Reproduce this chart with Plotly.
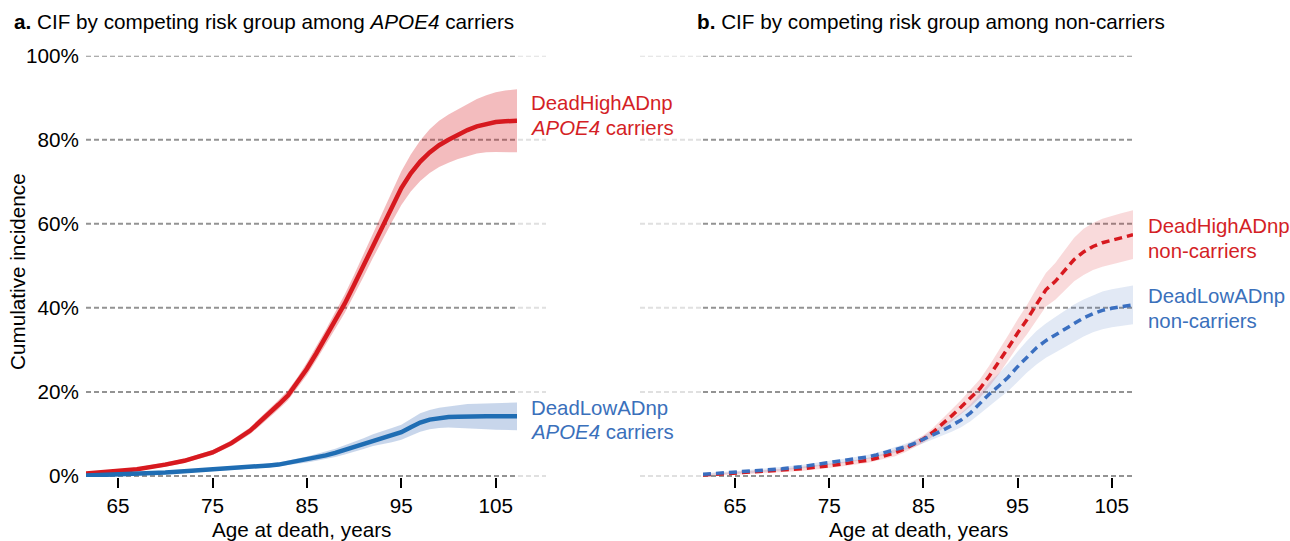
import plotly.graph_objects as go

# ---------------- data ----------------
AGES = [61.6, 63, 65, 67, 70, 72, 75, 77, 79, 80, 81, 82, 83, 84, 85, 86, 87, 88, 89, 90,
        91, 92, 93, 94, 95, 96, 97, 98, 99, 100, 101, 102, 103, 104, 105, 106, 107.25]

# Panel a: APOE4 carriers
carrier_high = [0.006, 0.008, 0.011, 0.016, 0.027, 0.036, 0.056, 0.078, 0.108, 0.128, 0.148, 0.170,
                0.192, 0.222, 0.255, 0.292, 0.330, 0.370, 0.410, 0.455, 0.500, 0.548, 0.595, 0.640,
                0.685, 0.720, 0.748, 0.770, 0.787, 0.800, 0.812, 0.823, 0.832, 0.838, 0.842, 0.844, 0.845]
carrier_high_lo = [0.003, 0.005, 0.007, 0.012, 0.022, 0.031, 0.050, 0.071, 0.100, 0.119, 0.138, 0.159,
                   0.180, 0.209, 0.240, 0.276, 0.312, 0.350, 0.388, 0.431, 0.474, 0.519, 0.563, 0.604,
                   0.645, 0.677, 0.702, 0.721, 0.735, 0.745, 0.754, 0.761, 0.767, 0.770, 0.771, 0.771, 0.770]
carrier_high_hi = [0.009, 0.011, 0.015, 0.020, 0.032, 0.041, 0.062, 0.085, 0.116, 0.137, 0.158, 0.181,
                   0.204, 0.235, 0.270, 0.308, 0.348, 0.390, 0.432, 0.479, 0.526, 0.577, 0.627, 0.676,
                   0.725, 0.765, 0.798, 0.825, 0.845, 0.860, 0.873, 0.886, 0.897, 0.906, 0.913, 0.917, 0.920]

carrier_low = [0.001, 0.002, 0.003, 0.005, 0.008, 0.011, 0.015, 0.018, 0.021, 0.023, 0.025, 0.027,
               0.031, 0.035, 0.039, 0.044, 0.049, 0.055, 0.062, 0.069, 0.077, 0.085, 0.091, 0.097,
               0.104, 0.116, 0.127, 0.134, 0.138, 0.140, 0.141, 0.142, 0.142, 0.142, 0.142, 0.142, 0.142]
carrier_low_lo = [0.000, 0.001, 0.001, 0.003, 0.005, 0.008, 0.012, 0.014, 0.017, 0.019, 0.020, 0.022,
                  0.025, 0.029, 0.032, 0.036, 0.040, 0.045, 0.051, 0.057, 0.064, 0.071, 0.076, 0.080,
                  0.086, 0.096, 0.105, 0.111, 0.114, 0.115, 0.114, 0.113, 0.112, 0.111, 0.110, 0.109, 0.109]
carrier_low_hi = [0.002, 0.003, 0.005, 0.007, 0.011, 0.014, 0.018, 0.022, 0.025, 0.027, 0.030, 0.032,
                  0.037, 0.041, 0.046, 0.052, 0.058, 0.065, 0.073, 0.081, 0.090, 0.099, 0.106, 0.114,
                  0.122, 0.136, 0.149, 0.157, 0.162, 0.165, 0.168, 0.171, 0.172, 0.173, 0.174, 0.175, 0.175]

# Panel b: non-carriers
noncarrier_high = [0.002, 0.004, 0.006, 0.009, 0.013, 0.017, 0.024, 0.030, 0.037, 0.042, 0.048, 0.055,
                   0.064, 0.075, 0.088, 0.104, 0.123, 0.143, 0.164, 0.185, 0.208, 0.238, 0.270, 0.305,
                   0.340, 0.372, 0.408, 0.443, 0.463, 0.490, 0.515, 0.533, 0.546, 0.555, 0.561, 0.567, 0.574]
noncarrier_high_lo = [0.000, 0.002, 0.003, 0.006, 0.009, 0.012, 0.019, 0.025, 0.031, 0.036, 0.041, 0.047,
                      0.056, 0.067, 0.079, 0.094, 0.111, 0.128, 0.147, 0.165, 0.186, 0.213, 0.242, 0.275,
                      0.308, 0.337, 0.370, 0.403, 0.419, 0.442, 0.463, 0.478, 0.490, 0.498, 0.503, 0.509, 0.516]
noncarrier_high_hi = [0.004, 0.006, 0.009, 0.012, 0.017, 0.022, 0.029, 0.035, 0.043, 0.048, 0.055, 0.063,
                      0.072, 0.083, 0.097, 0.114, 0.135, 0.158, 0.181, 0.205, 0.230, 0.263, 0.298, 0.335,
                      0.372, 0.407, 0.446, 0.483, 0.507, 0.538, 0.567, 0.588, 0.602, 0.612, 0.619, 0.625, 0.632]

noncarrier_low = [0.004, 0.006, 0.008, 0.011, 0.017, 0.022, 0.031, 0.037, 0.045, 0.050, 0.056, 0.062,
                  0.069, 0.077, 0.087, 0.097, 0.108, 0.120, 0.133, 0.150, 0.172, 0.195, 0.214, 0.235,
                  0.260, 0.284, 0.305, 0.322, 0.336, 0.350, 0.364, 0.376, 0.386, 0.394, 0.399, 0.403, 0.407]
noncarrier_low_lo = [0.002, 0.003, 0.005, 0.007, 0.013, 0.018, 0.026, 0.032, 0.040, 0.045, 0.050, 0.055,
                     0.062, 0.069, 0.079, 0.087, 0.096, 0.105, 0.116, 0.130, 0.148, 0.167, 0.184, 0.202,
                     0.224, 0.246, 0.265, 0.281, 0.294, 0.307, 0.320, 0.332, 0.342, 0.349, 0.354, 0.358, 0.361]
noncarrier_low_hi = [0.006, 0.009, 0.011, 0.015, 0.021, 0.026, 0.036, 0.042, 0.050, 0.055, 0.062, 0.069,
                     0.076, 0.085, 0.095, 0.107, 0.120, 0.135, 0.150, 0.170, 0.196, 0.223, 0.244, 0.268,
                     0.296, 0.322, 0.345, 0.363, 0.378, 0.393, 0.408, 0.420, 0.430, 0.439, 0.444, 0.448, 0.453]

X_TICKS = [65, 75, 85, 95, 105]
Y_TICKS = [0, 0.2, 0.4, 0.6, 0.8, 1.0]
Y_TICK_LABELS = ["0%", "20%", "40%", "60%", "80%", "100%"]

# ---------------- styling ----------------
W, H = 1290, 541
FONT = "Liberation Sans, Arial, sans-serif"
FS = 20.7
FS_LAB = 20.4
RED = "#d7191f"
BLUE_SOLID = "#1f6db3"
BLUE_DASH = "#3a6fc0"
RED_TXT = "#d41f26"
BLUE_TXT = "#3a70bb"
GRID = "#939393"
GRID_LIGHT = "#e0e0e0"


def px_x(p):
    return p / W


def px_y(p):
    return (H - p) / H


LEFT_DOM = [px_x(86), px_x(517)]
RIGHT_DOM = [px_x(703), px_x(1133)]
Y_DOM = [px_y(477), px_y(55.7)]
X_RANGE = [61.6, 107.25]
Y_RANGE = [-0.0025, 1.0]

fig = go.Figure()


def band(xa, ya, lo, hi, color):
    fig.add_trace(go.Scatter(
        x=AGES + AGES[::-1], y=hi + lo[::-1], fill="toself", fillcolor=color,
        line=dict(width=0), mode="lines", hoverinfo="skip", showlegend=False,
        xaxis=xa, yaxis=ya))


def line(xa, ya, vals, color, width, dash=None):
    fig.add_trace(go.Scatter(
        x=AGES, y=vals, mode="lines",
        line=dict(color=color, width=width, dash=dash), showlegend=False,
        xaxis=xa, yaxis=ya))


# panel a
band("x", "y", carrier_high_lo, carrier_high_hi, "rgba(215,25,32,0.29)")
band("x", "y", carrier_low_lo, carrier_low_hi, "rgba(50,105,180,0.27)")
line("x", "y", carrier_high, RED, 4.5)
line("x", "y", carrier_low, BLUE_SOLID, 4.5)

# panel b
band("x2", "y2", noncarrier_high_lo, noncarrier_high_hi, "rgba(215,25,32,0.16)")
band("x2", "y2", noncarrier_low_lo, noncarrier_low_hi, "rgba(58,110,190,0.15)")
line("x2", "y2", noncarrier_high, RED, 3.5, "8px,5px")
line("x2", "y2", noncarrier_low, BLUE_DASH, 3.5, "8px,5px")

# gridlines
shapes = []
for v in Y_TICKS:
    for xr, yr in (("x domain", "y"), ("x2 domain", "y2")):
        shapes.append(dict(type="line", xref=xr, yref=yr, x0=0, x1=1, y0=v, y1=v,
                           line=dict(color=GRID, width=2, dash="5px,3px"), layer="below"))
    shapes.append(dict(type="line", xref="paper", yref="y", x0=px_x(518), x1=px_x(546), y0=v, y1=v,
                       line=dict(color=GRID_LIGHT, width=2, dash="5px,3px"), layer="below"))
    shapes.append(dict(type="line", xref="paper", yref="y", x0=px_x(640), x1=px_x(703), y0=v, y1=v,
                       line=dict(color=GRID_LIGHT, width=2, dash="5px,3px"), layer="below"))

axis_common = dict(range=X_RANGE, tickvals=X_TICKS, ticks="outside", ticklen=10, tickwidth=2,
                   tickcolor="black", showgrid=False, zeroline=False, showline=False,
                   automargin=False, tickfont=dict(size=FS, color="black", family=FONT))
yaxis_common = dict(range=Y_RANGE, domain=Y_DOM, tickvals=Y_TICKS, ticktext=Y_TICK_LABELS,
                    showgrid=False, zeroline=False, showline=False, ticks="", automargin=False,
                    tickfont=dict(size=FS, color="black", family=FONT))

annotations = [
    dict(x=px_x(12), y=px_y(22), xref="paper", yref="paper", xanchor="left", yanchor="middle",
         text="<b>a.</b> CIF by competing risk group among <i>APOE4</i> carriers", showarrow=False,
         font=dict(size=FS, color="black", family=FONT)),
    dict(x=px_x(695), y=px_y(22), xref="paper", yref="paper", xanchor="left", yanchor="middle",
         text="<b>b.</b> CIF by competing risk group among non-carriers", showarrow=False,
         font=dict(size=FS, color="black", family=FONT)),
    dict(x=px_x(18), y=px_y(272), xref="paper", yref="paper", xanchor="center", yanchor="middle",
         text="Cumulative incidence", textangle=-90, showarrow=False,
         font=dict(size=FS, color="black", family=FONT)),
    dict(x=px_x(301), y=px_y(529), xref="paper", yref="paper", xanchor="center", yanchor="middle",
         text="Age at death, years", showarrow=False, font=dict(size=FS, color="black", family=FONT)),
    dict(x=px_x(918), y=px_y(529), xref="paper", yref="paper", xanchor="center", yanchor="middle",
         text="Age at death, years", showarrow=False, font=dict(size=FS, color="black", family=FONT)),
]

labels = [
    (529, 103, "DeadHighADnp", RED_TXT),
    (529, 128, "<i>APOE4</i> carriers", RED_TXT),
    (529, 408, "DeadLowADnp", BLUE_TXT),
    (529, 432, "<i>APOE4</i> carriers", BLUE_TXT),
    (1146, 226, "DeadHighADnp", RED_TXT),
    (1146, 251, "non-carriers", RED_TXT),
    (1146, 296, "DeadLowADnp", BLUE_TXT),
    (1146, 321, "non-carriers", BLUE_TXT),
]
for xp, yp, txt, col in labels:
    annotations.append(dict(x=px_x(xp), y=px_y(yp), xref="paper", yref="paper", xanchor="left",
                            yanchor="middle", text=txt, showarrow=False,
                            font=dict(size=FS_LAB, color=col, family=FONT)))

fig.update_layout(
    width=W, height=H, autosize=False,
    margin=dict(l=0, r=0, t=0, b=0, pad=0, autoexpand=False),
    paper_bgcolor="white", plot_bgcolor="white", showlegend=False,
    font=dict(family=FONT, size=FS, color="black"),
    xaxis=dict(domain=LEFT_DOM, anchor="y", **axis_common),
    xaxis2=dict(domain=RIGHT_DOM, anchor="y2", **axis_common),
    yaxis=dict(anchor="x", ticklabelstandoff=6, **yaxis_common),
    yaxis2=dict(anchor="x2", showticklabels=False, **yaxis_common),
    shapes=shapes, annotations=annotations,
)

fig.write_html("out.html")
